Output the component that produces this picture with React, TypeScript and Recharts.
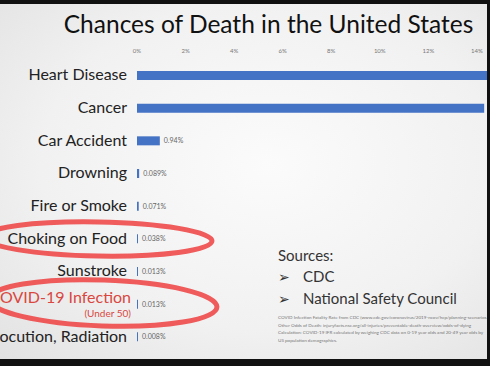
import { BarChart, Bar, XAxis, YAxis, LabelList } from "recharts"

const causes = [
  "Heart Disease", "Cancer", "Car Accident", "Drowning", "Fire or Smoke",
  "Choking on Food", "Sunstroke", "COVID-19 Infection", "Electrocution, Radiation",
]
const chances = [16.7, 14.3, 0.94, 0.089, 0.071, 0.038, 0.013, 0.013, 0.008]
const xTicks = [0, 2, 4, 6, 8, 10, 12, 14]
const sources = ["CDC", "National Safety Council"]
const footnotes = [
  "COVID Infection Fatality Rate from CDC  (www.cdc.gov/coronavirus/2019-ncov/hcp/planning-scenarios.html)",
  "Other Odds of Death: injuryfacts.nsc.org/all-injuries/preventable-death-overview/odds-of-dying",
  "Calculation: COVID-19 IFR calculated by weighing CDC data on 0-19 year olds and 20-49 year olds by",
  "US population demographics.",
]

const data = causes.map((c, i) => ({ cause: c, pct: chances[i] }))
const font = "Lato, 'Open Sans', sans-serif"

const CauseTick = (props: any) => {
  const { x, y, payload } = props
  if (payload.value === "COVID-19 Infection") {
    return (
      <g>
        <text x={x + 4} y={y - 1} textAnchor="end" fontSize={16} fill="#d9473f" fontFamily={font}>COVID-19 Infection</text>
        <text x={x + 4} y={y + 13} textAnchor="end" fontSize={10} fill="#d9473f" fontFamily={font}>(Under 50)</text>
      </g>
    )
  }
  return (
    <text x={x} y={y} dy={5} textAnchor="end" fontSize={16} fill="#222" fontFamily={font}>{payload.value}</text>
  )
}

export default function App() {
  return (
    <div style={{ position: "fixed", left: 0, top: 0, width: 490, height: 366, background: "#111", overflow: "hidden" }}>
      <div style={{
        position: "absolute", left: 0, top: 4, width: 487, height: 355, overflow: "hidden",
        background: "radial-gradient(ellipse at 55% 45%, #fbfbfb 0%, #f1f1f1 60%, #e2e2e2 100%)",
      }}>
        <div style={{ position: "absolute", left: 0, top: 5, width: 487, textAlign: "center", fontFamily: font, fontSize: 24.5, color: "#111" }}>
          <span style={{ marginLeft: 50 }}>Chances of Death in the United States</span>
        </div>
        <div style={{ position: "absolute", left: -60, top: -4 }}>
          <BarChart width={640} height={366} data={data} layout="vertical" margin={{ top: 39, right: 6, bottom: 13, left: 0 }}>
            <XAxis type="number" orientation="top" domain={[0, 18]} ticks={xTicks} height={20}
              axisLine={false} tickLine={false} tickSize={0} tickMargin={6}
              tick={{ fontSize: 6, fill: "#777", fontFamily: font }} tickFormatter={(v: number) => `${v}%`} />
            <YAxis type="category" dataKey="cause" width={197} axisLine={false} tickLine={false} tickSize={0} tickMargin={10} tick={<CauseTick />} interval={0} />
            <Bar dataKey="pct" fill="#4472c4" barSize={9} minPointSize={1} isAnimationActive={false}>
              <LabelList dataKey="pct" position="right" offset={4} fontSize={7} fill="#666" fontFamily={font}
                formatter={(v: any) => `${v}%`} />
            </Bar>
          </BarChart>
        </div>
        <svg width={487} height={355} style={{ position: "absolute", left: 0, top: 0, pointerEvents: "none" }}>
          <ellipse cx={98} cy={235} rx={114} ry={17} fill="none" stroke="#ee4040" strokeWidth={5} opacity={0.85} transform="rotate(1 98 235)" />
          <ellipse cx={103} cy={299} rx={114} ry={23} fill="none" stroke="#ee4040" strokeWidth={5} opacity={0.85} transform="rotate(2 103 299)" />
        </svg>
        <div style={{ position: "absolute", left: 278, top: 241, fontFamily: font, color: "#333", fontSize: 15, lineHeight: "21px" }}>
          <div>Sources:</div>
          {sources.map(s => (
            <div key={s}><span style={{ display: "inline-block", width: 25, fontFamily: "DejaVu Sans", fontSize: 14 }}>➢</span>{s}</div>
          ))}
          <div style={{ marginTop: 4, fontSize: 4.6, lineHeight: "7.5px", color: "#777", whiteSpace: "nowrap" }}>
            {footnotes.map(f => <div key={f}>{f}</div>)}
          </div>
        </div>
      </div>
    </div>
  )
}
